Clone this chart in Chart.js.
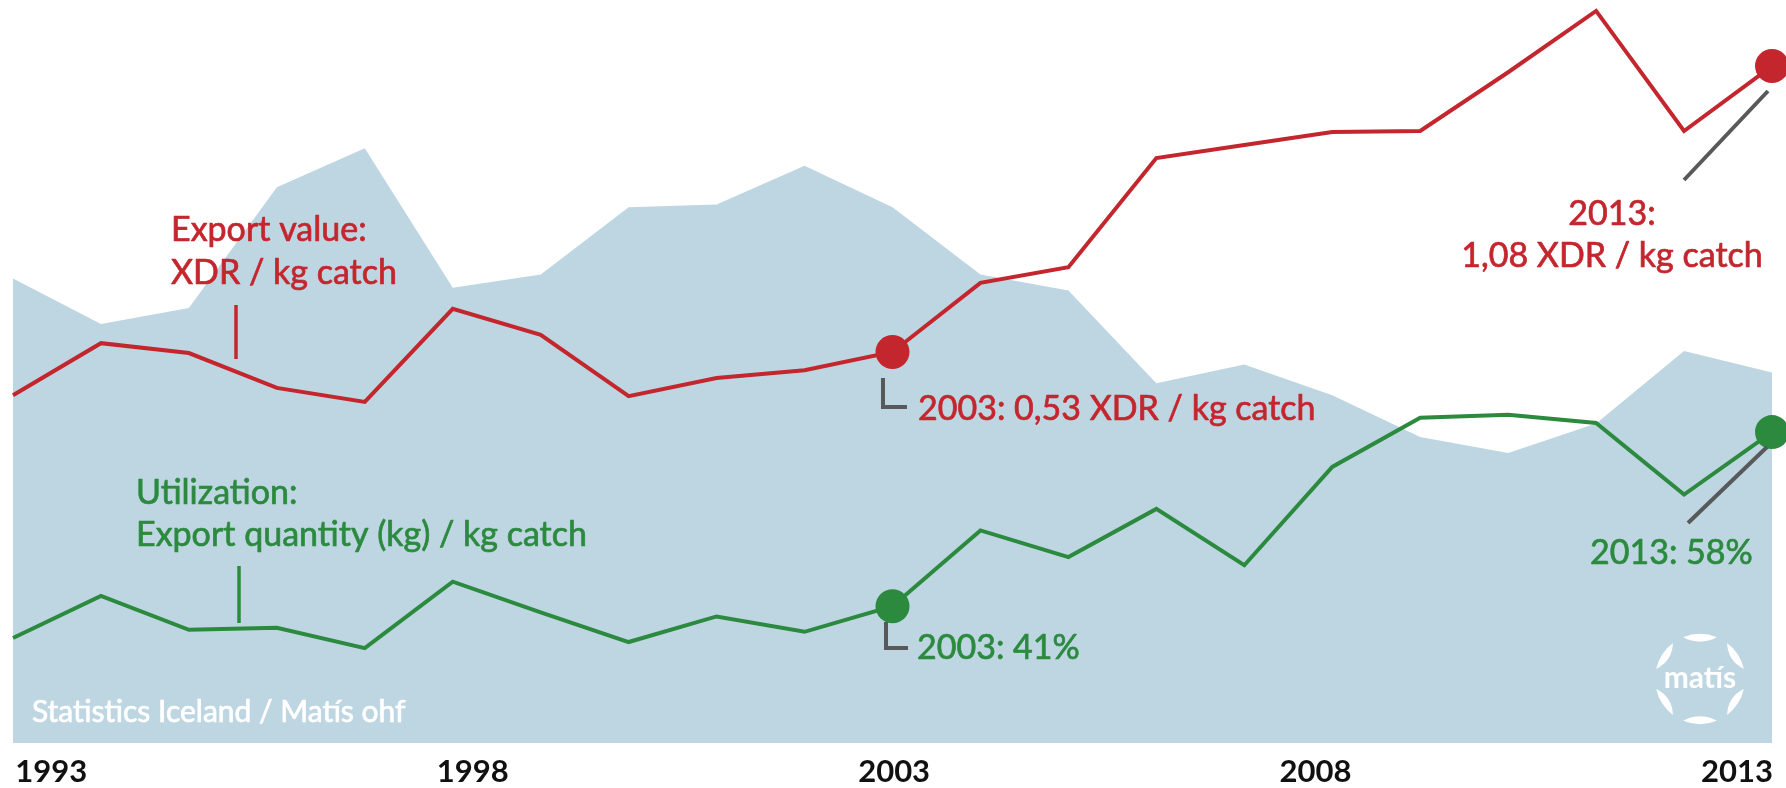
<!DOCTYPE html>
<html>
<head>
<meta charset="utf-8">
<script src="https://cdn.jsdelivr.net/npm/chart.js@4.4.1/dist/chart.umd.min.js"></script>
<style>
  html, body { margin: 0; padding: 0; background: #ffffff; }
  #wrap { width: 1786px; height: 788px; position: relative; overflow: hidden; }
  canvas { display: block; }
</style>
</head>
<body>
<div id="wrap"><canvas id="c" width="1786" height="788"></canvas></div>
<script>
// ---- data ----
const years = [1993, 1994, 1995, 1996, 1997, 1998, 1999, 2000, 2001, 2002, 2003,
               2004, 2005, 2006, 2007, 2008, 2009, 2010, 2011, 2012, 2013];
const tickYears = [1993, 1998, 2003, 2008, 2013];
// background area: total catch (thousand tonnes, estimated)
const totalCatch = [1730, 1560, 1620, 2070, 2215, 1695, 1745, 1995, 2005, 2150, 1995,
                    1745, 1685, 1340, 1410, 1295, 1140, 1080, 1190, 1460, 1380];
// export value, XDR per kg catch
const exportValue = [0.447, 0.547, 0.528, 0.461, 0.434, 0.613, 0.563, 0.445, 0.480, 0.495, 0.53,
                     0.663, 0.693, 0.903, 0.928, 0.953, 0.955, 1.068, 1.186, 0.955, 1.08];
// utilization, export quantity (kg) per kg catch, %
const utilization = [37.9, 42.0, 38.7, 38.9, 36.9, 43.4, 40.4, 37.5, 40.0, 38.5, 41,
                     48.4, 45.8, 50.5, 45.0, 54.6, 59.4, 59.7, 58.9, 51.9, 58];
const highlightYears = [2003, 2013];

const RED = '#c4262e';
const GREEN = '#2c8a3f';
const AREA = '#bed6e2';
const GRAY = '#58595b';

const pts = vals => years.map((y, i) => ({ x: y, y: vals[i] }));
const dotRadius = ctx => (ctx.raw && highlightYears.includes(ctx.raw.x)) ? 17 : 0;

const annotations = {
  id: 'annotations',
  afterDatasetsDraw(chart) {
    const ctx = chart.ctx;
    ctx.save();
    const F = '34px Lato, "Open Sans", sans-serif';
    const text = (s, x, y, color, align, font, heavy) => {
      ctx.font = font || F;
      ctx.fillStyle = color;
      ctx.textAlign = align || 'left';
      ctx.textBaseline = 'alphabetic';
      ctx.fillText(s, x, y);
      if (heavy !== false) {
        ctx.strokeStyle = color;
        ctx.lineWidth = 0.7;
        ctx.lineJoin = 'round';
        ctx.strokeText(s, x, y);
      }
    };
    const path = (p, color, w) => {
      ctx.beginPath();
      ctx.moveTo(p[0][0], p[0][1]);
      for (let i = 1; i < p.length; i++) ctx.lineTo(p[i][0], p[i][1]);
      ctx.strokeStyle = color;
      ctx.lineWidth = w;
      ctx.lineCap = 'butt';
      ctx.lineJoin = 'miter';
      ctx.stroke();
    };
    // series labels
    text('Export value:', 171, 241, RED);
    text('XDR / kg catch', 171, 284, RED);
    path([[236, 305], [236, 359]], RED, 3.5);
    text('Utilization:', 136, 504, GREEN);
    text('Export quantity (kg) / kg catch', 136, 546, GREEN);
    path([[239, 566], [239, 623]], GREEN, 3.5);
    // 2003 callouts
    path([[883, 378], [883, 407], [907, 407]], GRAY, 4);
    text('2003: 0,53 XDR / kg catch', 918, 420, RED);
    path([[886, 622], [886, 648], [908, 648]], GRAY, 4);
    text('2003: 41%', 917, 659, GREEN);
    // 2013 callouts
    path([[1768, 91], [1684, 180]], GRAY, 4);
    text('2013:', 1612, 225, RED, 'center');
    text('1,08 XDR / kg catch', 1612, 267, RED, 'center');
    path([[1767, 447], [1688, 523]], GRAY, 4);
    text('2013: 58%', 1590, 564, GREEN);
    // source
    text('Statistics Iceland / Matís ohf', 32, 722, '#ffffff', 'left', '30px Lato, "Open Sans", sans-serif');
    // logo
    const cx = 1700, cy = 679, R = 45;
    ctx.fillStyle = '#ffffff';
    const segs = [[-90, 22], [-33, 20], [33, 20], [90, 22], [147, 20], [213, 20]];
    segs.forEach(([a, h]) => {
      const a0 = (a - h) * Math.PI / 180, a1 = (a + h) * Math.PI / 180, am = a * Math.PI / 180;
      ctx.beginPath();
      ctx.arc(cx, cy, R, a0, a1);
      const ri = R - 12;
      ctx.quadraticCurveTo(cx + ri * Math.cos(am), cy + ri * Math.sin(am),
                           cx + R * Math.cos(a0), cy + R * Math.sin(a0));
      ctx.closePath();
      ctx.fill();
    });
    text('matís', cx, cy + 9, '#ffffff', 'center', 'bold 30px Lato, "Open Sans", sans-serif', false);
    ctx.restore();
  }
};

function draw() {
  new Chart(document.getElementById('c'), {
    type: 'line',
    data: {
      datasets: [
        {
          label: 'Total catch',
          data: pts(totalCatch),
          xAxisID: 'x', yAxisID: 'yArea',
          fill: 'origin',
          backgroundColor: AREA,
          borderColor: 'transparent',
          borderWidth: 0,
          pointRadius: 0,
          tension: 0,
          order: 10
        },
        {
          label: 'Export value: XDR / kg catch',
          data: pts(exportValue),
          xAxisID: 'x', yAxisID: 'yRed',
          fill: false,
          borderColor: RED,
          borderWidth: 4,
          borderJoinStyle: 'miter',
          pointRadius: dotRadius,
          pointHoverRadius: dotRadius,
          pointBackgroundColor: RED,
          pointBorderWidth: 0,
          tension: 0,
          clip: false,
          order: 1
        },
        {
          label: 'Utilization: Export quantity (kg) / kg catch',
          data: pts(utilization),
          xAxisID: 'x', yAxisID: 'yGreen',
          fill: false,
          borderColor: GREEN,
          borderWidth: 4,
          borderJoinStyle: 'miter',
          pointRadius: dotRadius,
          pointHoverRadius: dotRadius,
          pointBackgroundColor: GREEN,
          pointBorderWidth: 0,
          tension: 0,
          clip: false,
          order: 2
        }
      ]
    },
    options: {
      responsive: false,
      devicePixelRatio: 1,
      animation: false,
      events: [],
      layout: { autoPadding: false, padding: { left: 13, right: 14, top: 0, bottom: 0 } },
      plugins: { legend: { display: false }, tooltip: { enabled: false }, title: { display: false } },
      scales: {
        x: { type: 'linear', min: 1993, max: 2013, display: false },
        xLabels: {
          type: 'linear', position: 'bottom', min: 1992.546, max: 2013.415,
          grid: { display: false, drawTicks: false },
          border: { display: false },
          ticks: {
            padding: 10, autoSkip: false, maxRotation: 0,
            color: '#111111',
            font: { family: 'Lato, "Open Sans", sans-serif', size: 31, weight: 'bold' },
            callback: v => String(v)
          },
          afterBuildTicks: s => { s.ticks = tickYears.map(v => ({ value: v })); },
          afterFit: s => { s.height = 45; }
        },
        yArea: { display: false, min: 0, max: 2767 },
        yRed: { display: false, min: -0.222, max: 1.207 },
        yGreen: { display: false, min: 27.64, max: 100.2 }
      }
    },
    plugins: [annotations]
  });
}
if (document.fonts && document.fonts.load) {
  Promise.all([document.fonts.load('34px Lato'), document.fonts.load('bold 31px Lato')])
    .then(draw, draw);
} else { draw(); }
</script>
</body>
</html>
